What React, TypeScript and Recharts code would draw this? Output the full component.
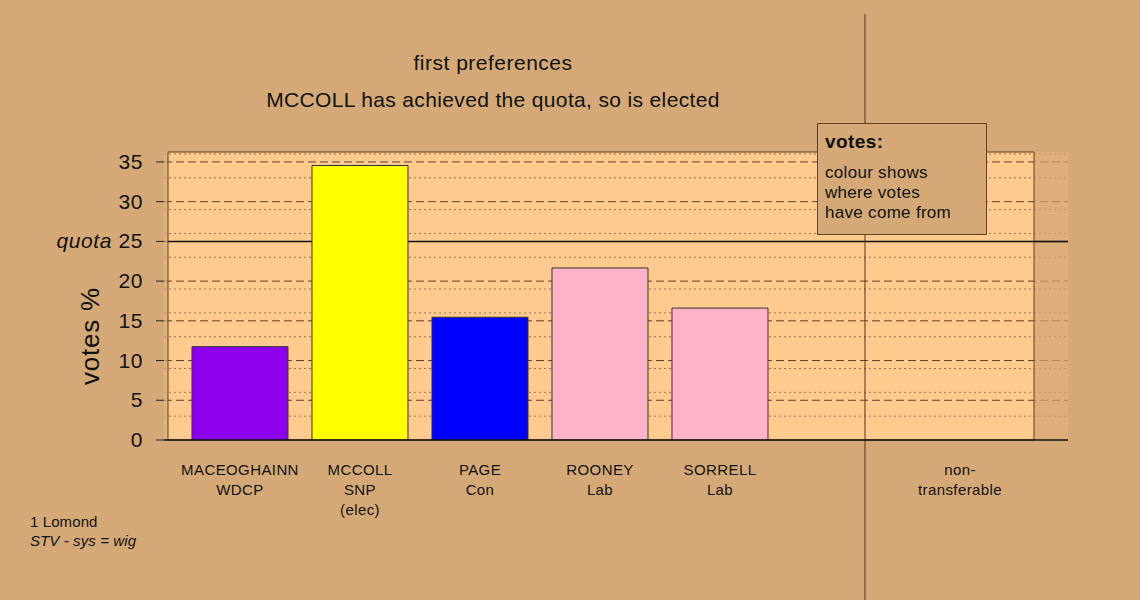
import { Bar, BarChart, CartesianGrid, Cell, ReferenceArea, ReferenceLine, XAxis, YAxis } from "recharts";

const candidates = ["MACEOGHAINN", "MCCOLL", "PAGE", "ROONEY", "SORRELL", "", "non-"];
const parties = ["WDCP", "SNP", "Con", "Lab", "Lab", "", "transferable"];
const notes = ["", "(elec)", "", "", "", "", ""];
const slots = [0, 1, 2, 3, 4, 5, 6];
const votes = [11.75, 34.55, 15.45, 21.65, 16.6, 0, 0];
const barColors = ["#8C00EE", "#FFFF00", "#0000FF", "#FFB3C6", "#FFB3C6", "#FFB3C6", "#FFB3C6"];

const majorTicks = [0, 5, 10, 15, 20, 25, 30, 35];
const dashedLines = [5, 10, 15, 20, 30, 35];
const dottedLines = Array.from({ length: 36 }, (_, i) => i + 1).filter((v) => v % 5 !== 0);
const quota = 25;

const BG = "#D4A977";
const PANEL = "#FFCA8E";
const DARK = "#5C4128";
const FONT = "'Liberation Sans', Arial, Helvetica, sans-serif";

// x layout of the panel, in slot units (one slot = one candidate)
const X_MIN = -0.6333;
const X_MAX = 6.9;
const PANEL_LEFT = -0.6;
const PANEL_RIGHT = 6.6167;
const DIVIDER = 5.2083;
const Y_TOP = 36.25;

const data = slots.map((slot, i) => ({
  slot,
  name: candidates[i],
  party: parties[i],
  note: notes[i],
  votes: votes[i],
}));

function YTick(props: any) {
  const { x, y, payload } = props;
  return (
    <text x={x} y={y} dy={7} textAnchor="end" fontSize={21} letterSpacing={0.6} fill="#111" fontFamily={FONT}>
      {payload.value === quota ? <tspan fontStyle="italic">quota </tspan> : null}
      {payload.value}
    </text>
  );
}

function XTick(props: any) {
  const { x, y, payload } = props;
  const row = data.find((d) => d.slot === payload.value);
  if (!row) return null;
  const lines = [row.name, row.party, row.note].filter((l) => l);
  return (
    <text x={x} y={y} textAnchor="middle" fontSize={15} letterSpacing={0.4} fill="#111" fontFamily={FONT}>
      {lines.map((line, i) => (
        <tspan key={i} x={x} dy={i === 0 ? 27 : 20}>
          {line}
        </tspan>
      ))}
    </text>
  );
}

export default function App() {
  return (
    <div
      style={{
        position: "absolute",
        left: 0,
        top: 0,
        width: 1140,
        height: 600,
        background: BG,
        fontFamily: FONT,
        overflow: "hidden",
      }}
    >
      <div style={{ position: "absolute", left: 193, width: 600, top: 51, textAlign: "center", fontSize: 21, letterSpacing: 0.5, color: "#111" }}>
        first preferences
      </div>
      <div style={{ position: "absolute", left: 193, width: 600, top: 88, textAlign: "center", fontSize: 21, letterSpacing: 0.35, color: "#111" }}>
        MCCOLL has achieved the quota, so is elected
      </div>

      <BarChart
        width={1140}
        height={600}
        data={data}
        margin={{ top: 152, right: 72, bottom: 80, left: 64 }}
        barSize={96}
      >
        <CartesianGrid
          vertical={false}
          horizontalValues={dottedLines}
          fill={PANEL}
          fillOpacity={1}
          stroke="#967450"
          strokeDasharray="2 3"
          strokeWidth={1}
        />
        <CartesianGrid
          vertical={false}
          horizontalValues={dashedLines}
          stroke={DARK}
          strokeDasharray="8 4"
          strokeWidth={1}
        />
        <CartesianGrid vertical={false} horizontalValues={[quota]} stroke="#111" strokeWidth={1.5} />
        <XAxis
          dataKey="slot"
          type="number"
          domain={[X_MIN, X_MAX]}
          ticks={[0, 1, 2, 3, 4, 6]}
          tick={<XTick />}
          tickLine={false}
          axisLine={{ stroke: "#111", strokeWidth: 1.5 }}
          height={80}
          allowDataOverflow
        />
        <YAxis
          domain={[0, Y_TOP]}
          ticks={majorTicks}
          tick={<YTick />}
          tickSize={8}
          tickMargin={13}
          tickLine={{ stroke: "#222" }}
          axisLine={false}
          width={100}
          allowDataOverflow
        />
        <Bar dataKey="votes" stroke="#333" strokeWidth={1} isAnimationActive={false}>
          {data.map((d, i) => (
            <Cell key={d.slot} fill={barColors[i]} />
          ))}
        </Bar>
        <ReferenceArea x1={X_MIN} x2={PANEL_LEFT} y1={0} y2={Y_TOP} fill={BG} fillOpacity={0.75} stroke="none" />
        <ReferenceArea x1={PANEL_RIGHT} x2={X_MAX} y1={0} y2={Y_TOP} fill="#D0A473" fillOpacity={0.72} stroke="none" />
        <ReferenceLine
          segment={[
            { x: PANEL_RIGHT, y: quota },
            { x: X_MAX, y: quota },
          ]}
          stroke="#111"
          strokeWidth={1.5}
        />
        <ReferenceArea x1={PANEL_LEFT} x2={PANEL_RIGHT} y1={0} y2={Y_TOP} fill="none" stroke={DARK} strokeWidth={1} />
        <ReferenceLine
          segment={[
            { x: DIVIDER, y: -20.2 },
            { x: DIVIDER, y: 53.6 },
          ]}
          ifOverflow="visible"
          stroke="#4A3520"
          strokeWidth={1}
        />
      </BarChart>

      <div
        style={{
          position: "absolute",
          left: 90,
          top: 336,
          transform: "translate(-50%, -50%) rotate(-90deg)",
          fontSize: 26,
          letterSpacing: 0.8,
          color: "#111",
          whiteSpace: "nowrap",
        }}
      >
        votes %
      </div>

      <div
        style={{
          position: "absolute",
          left: 817,
          top: 123,
          width: 170,
          height: 112,
          background: BG,
          border: `1px solid ${DARK}`,
          boxSizing: "border-box",
          padding: "6px 0 0 7px",
          color: "#111",
        }}
      >
        <div style={{ fontSize: 19, fontWeight: "bold", lineHeight: "24px", letterSpacing: 0.4 }}>votes:</div>
        <div style={{ fontSize: 17, lineHeight: "20px", marginTop: 9, letterSpacing: 0.3 }}>
          colour shows
          <br />
          where votes
          <br />
          have come from
        </div>
      </div>

      <div style={{ position: "absolute", left: 30, top: 512, fontSize: 15, lineHeight: "19px", letterSpacing: 0.1, color: "#111" }}>
        1 Lomond
        <br />
        <i>STV - sys = wig</i>
      </div>
    </div>
  );
}
